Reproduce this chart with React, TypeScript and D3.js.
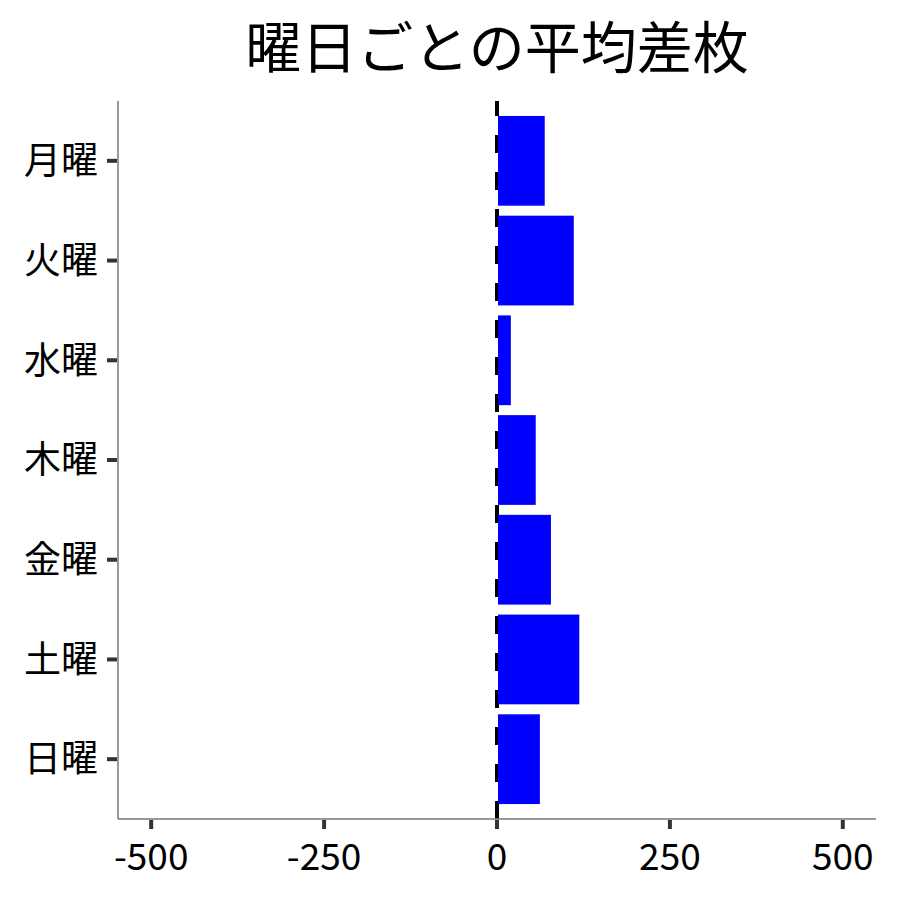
import { useEffect, useRef } from 'react';
import * as d3 from 'd3';

const days = ['月曜', '火曜', '水曜', '木曜', '金曜', '土曜', '日曜'];
const avgDiff = [69, 111, 20, 56, 78, 119, 62];
const xTicks = [-500, -250, 0, 250, 500];
const title = '曜日ごとの平均差枚';

const FONT = '"Noto Sans CJK JP", "Noto Sans", sans-serif';

export default function App() {
  const svgRef = useRef<SVGSVGElement>(null);

  useEffect(() => {
    if (!svgRef.current) return;
    const svg = d3.select(svgRef.current);
    svg.selectAll('*').remove();

    const panel = { left: 118, right: 876, top: 101, bottom: 819 };

    const x = d3.scaleLinear().domain([-548, 548]).range([panel.left, panel.right]);
    // ggplot-style discrete axis: 0.6 expansion each side, bar width 0.9
    const y = d3
      .scaleBand<string>()
      .domain(days)
      .range([panel.top, panel.bottom])
      .paddingInner(0.1)
      .paddingOuter(0.15);

    // zero reference line (drawn bottom -> top, behind bars)
    svg
      .append('line')
      .attr('x1', x(0))
      .attr('x2', x(0))
      .attr('y1', panel.bottom)
      .attr('y2', panel.top)
      .attr('stroke', '#000')
      .attr('stroke-width', 4)
      .attr('stroke-dasharray', '18 19');

    // bars
    svg
      .selectAll('rect.bar')
      .data(days)
      .join('rect')
      .attr('class', 'bar')
      .attr('x', (_d, i) => x(Math.min(0, avgDiff[i])) + 1)
      .attr('y', (d) => y(d) ?? 0)
      .attr('width', (_d, i) => Math.abs(x(avgDiff[i]) - x(0)) - 1)
      .attr('height', y.bandwidth())
      .attr('fill', '#0000FF');

    // axis lines
    svg
      .append('line')
      .attr('x1', panel.left)
      .attr('x2', panel.left)
      .attr('y1', panel.top)
      .attr('y2', panel.bottom)
      .attr('stroke', '#777')
      .attr('stroke-width', 1.5);
    svg
      .append('line')
      .attr('x1', panel.left)
      .attr('x2', panel.right)
      .attr('y1', panel.bottom)
      .attr('y2', panel.bottom)
      .attr('stroke', '#777')
      .attr('stroke-width', 1.5);

    // y ticks + labels
    const yc = (d: string) => (y(d) ?? 0) + y.bandwidth() / 2;
    svg
      .selectAll('line.ytick')
      .data(days)
      .join('line')
      .attr('class', 'ytick')
      .attr('x1', panel.left - 11)
      .attr('x2', panel.left - 1)
      .attr('y1', yc)
      .attr('y2', yc)
      .attr('stroke', '#333')
      .attr('stroke-width', 4);
    svg
      .selectAll('text.ylab')
      .data(days)
      .join('text')
      .attr('class', 'ylab')
      .attr('x', panel.left - 20)
      .attr('y', yc)
      .attr('dy', '0.36em')
      .attr('text-anchor', 'end')
      .attr('font-family', FONT)
      .attr('font-size', 37)
      .attr('fill', '#000')
      .text((d) => d);

    // x ticks + labels
    svg
      .selectAll('line.xtick')
      .data(xTicks)
      .join('line')
      .attr('class', 'xtick')
      .attr('x1', (d) => x(d))
      .attr('x2', (d) => x(d))
      .attr('y1', panel.bottom + 1)
      .attr('y2', panel.bottom + 10)
      .attr('stroke', '#333')
      .attr('stroke-width', 4);
    svg
      .selectAll('text.xlab')
      .data(xTicks)
      .join('text')
      .attr('class', 'xlab')
      .attr('x', (d) => x(d))
      .attr('y', 870)
      .attr('text-anchor', 'middle')
      .attr('font-family', FONT)
      .attr('font-size', 37)
      .attr('fill', '#000')
      .text((d) => String(d));

    // title
    svg
      .append('text')
      .attr('x', (panel.left + panel.right) / 2)
      .attr('y', 68)
      .attr('text-anchor', 'middle')
      .attr('font-family', FONT)
      .attr('font-size', 56)
      .attr('fill', '#000')
      .text(title);
  }, []);

  return (
    <svg
      ref={svgRef}
      width={900}
      height={900}
      style={{ position: 'absolute', left: 0, top: 0, background: '#fff' }}
    />
  );
}
